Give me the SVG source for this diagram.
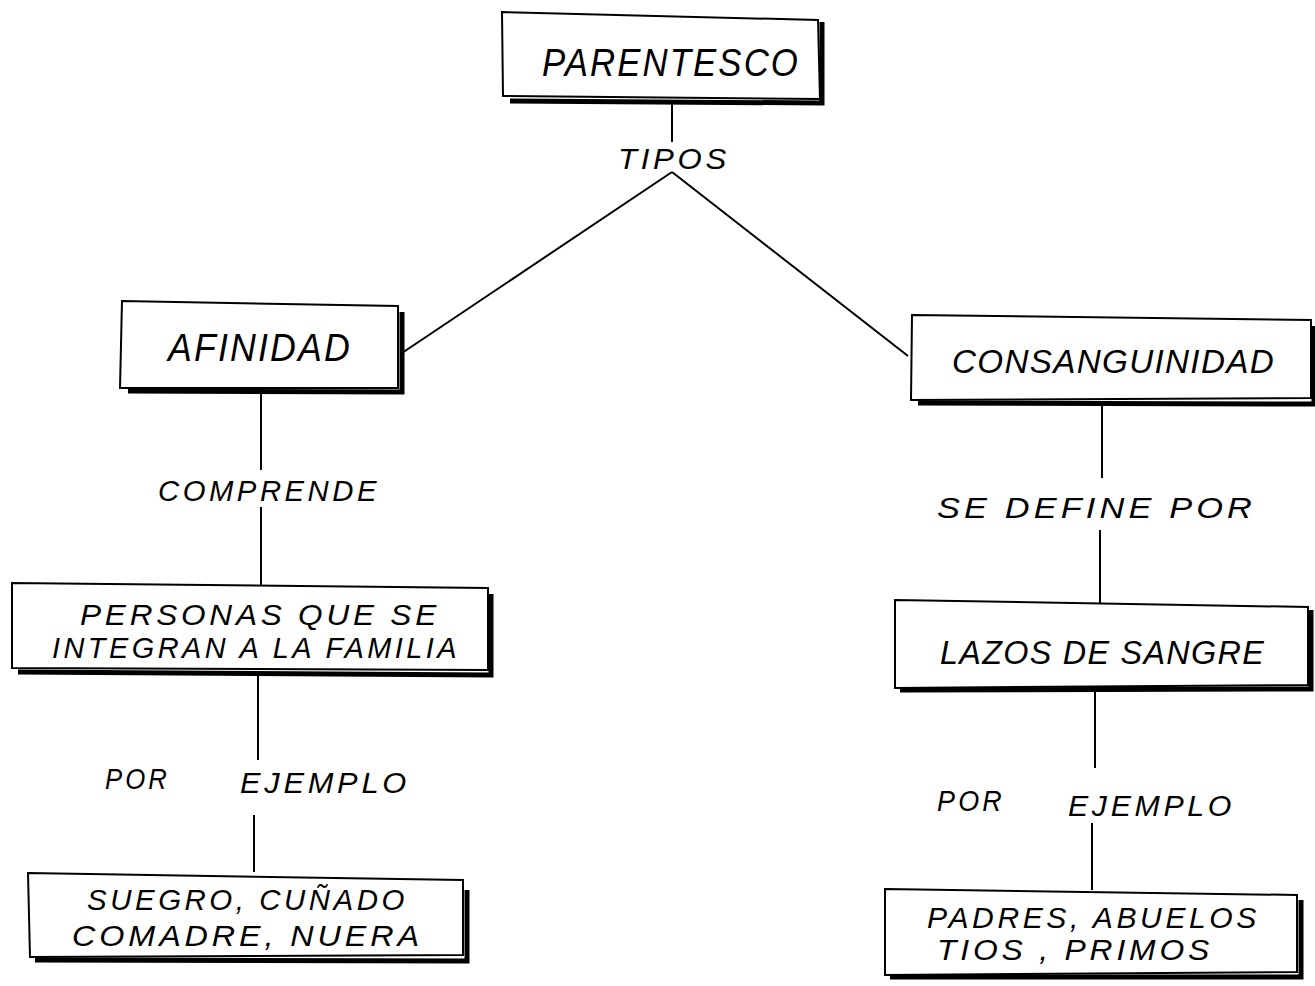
<svg xmlns="http://www.w3.org/2000/svg" width="1315" height="986" viewBox="0 0 1315 986">
<style>
.box{fill:#fff;stroke:#000;stroke-width:2}
.sh{fill:none;stroke:#000;stroke-width:5}
.ln{stroke:#000;stroke-width:2;fill:none}
text{font-family:"Liberation Sans",Arial,sans-serif;font-style:italic;fill:#000;text-anchor:start;letter-spacing:0.12em}
.big{font-size:39px;letter-spacing:0.06em}
.mid{font-size:34px;letter-spacing:0.04em}
.two{font-size:30px}
.lab{font-size:30px}
</style>
<rect width="1315" height="986" fill="#fff"/>
<g id="connectors">
<line class="ln" x1="672" y1="103" x2="672" y2="142"/>
<line class="ln" x1="672" y1="172" x2="402" y2="353"/>
<line class="ln" x1="672" y1="172" x2="908" y2="356"/>
<line class="ln" x1="261" y1="393" x2="261" y2="470"/>
<line class="ln" x1="261" y1="507" x2="261" y2="588"/>
<line class="ln" x1="258" y1="676" x2="258" y2="760"/>
<line class="ln" x1="254" y1="815" x2="254" y2="872"/>
<line class="ln" x1="1102" y1="405" x2="1102" y2="478"/>
<line class="ln" x1="1100" y1="530" x2="1100" y2="603"/>
<line class="ln" x1="1095" y1="690" x2="1095" y2="768"/>
<line class="ln" x1="1092" y1="823" x2="1092" y2="890"/>
<text class="lab" x="618" y="169" textLength="112" lengthAdjust="spacingAndGlyphs">TIPOS</text>
<text class="lab" x="158" y="501" textLength="222" lengthAdjust="spacingAndGlyphs">COMPRENDE</text>
<text class="lab" x="937" y="518" textLength="319" lengthAdjust="spacingAndGlyphs">SE DEFINE POR</text>
<text class="lab" x="105" y="789" textLength="65" lengthAdjust="spacingAndGlyphs">POR</text>
<text class="lab" x="240" y="793" textLength="170" lengthAdjust="spacingAndGlyphs">EJEMPLO</text>
<text class="lab" x="937" y="811" textLength="68" lengthAdjust="spacingAndGlyphs">POR</text>
<text class="lab" x="1068" y="816" textLength="167" lengthAdjust="spacingAndGlyphs">EJEMPLO</text>
</g>
<g id="parentesco">
<polyline class="sh" points="822,22 822,103 510,101"/>
<polygon class="box" points="502,12 818,20 820,99 503,96"/>
<text class="big" x="542" y="76" textLength="258" lengthAdjust="spacingAndGlyphs">PARENTESCO</text>
</g>
<g id="afinidad">
<polyline class="sh" points="402,312 402,392 128,391"/>
<polygon class="box" points="122,301 398,306 398,388 120,388"/>
<text class="big" x="168" y="361" textLength="184" lengthAdjust="spacingAndGlyphs">AFINIDAD</text>
</g>
<g id="consanguinidad">
<polyline class="sh" points="1314,326 1314,404 918,403"/>
<polygon class="box" points="912,315 1311,320 1311,398 911,400"/>
<text class="mid" x="952" y="373" textLength="323" lengthAdjust="spacingAndGlyphs">CONSANGUINIDAD</text>
</g>
<g id="personas">
<polyline class="sh" points="491,594 491,675 18,672"/>
<polygon class="box" points="12,583 488,588 488,670 12,668"/>
<text class="two" x="80" y="625" textLength="360" lengthAdjust="spacingAndGlyphs">PERSONAS QUE SE</text>
<text class="two" x="52" y="658" textLength="408" lengthAdjust="spacingAndGlyphs">INTEGRAN A LA FAMILIA</text>
</g>
<g id="lazos">
<polyline class="sh" points="1311,610 1311,689 900,690"/>
<polygon class="box" points="895,600 1308,607 1308,685 895,688"/>
<text class="mid" x="940" y="664" textLength="325" lengthAdjust="spacingAndGlyphs">LAZOS DE SANGRE</text>
</g>
<g id="suegro">
<polyline class="sh" points="467,890 467,961 35,960"/>
<polygon class="box" points="28,873 463,880 463,955 30,957"/>
<text class="two" x="87" y="910" textLength="321" lengthAdjust="spacingAndGlyphs">SUEGRO,  CUÑADO</text>
<text class="two" x="72" y="946" textLength="351" lengthAdjust="spacingAndGlyphs">COMADRE, NUERA</text>
</g>
<g id="padres">
<polyline class="sh" points="1301,900 1301,977 890,977"/>
<polygon class="box" points="885,889 1297,895 1297,972 885,975"/>
<text class="two" x="927" y="928" textLength="333" lengthAdjust="spacingAndGlyphs">PADRES, ABUELOS</text>
<text class="two" x="937" y="960" textLength="276" lengthAdjust="spacingAndGlyphs">TIOS , PRIMOS</text>
</g>
</svg>
